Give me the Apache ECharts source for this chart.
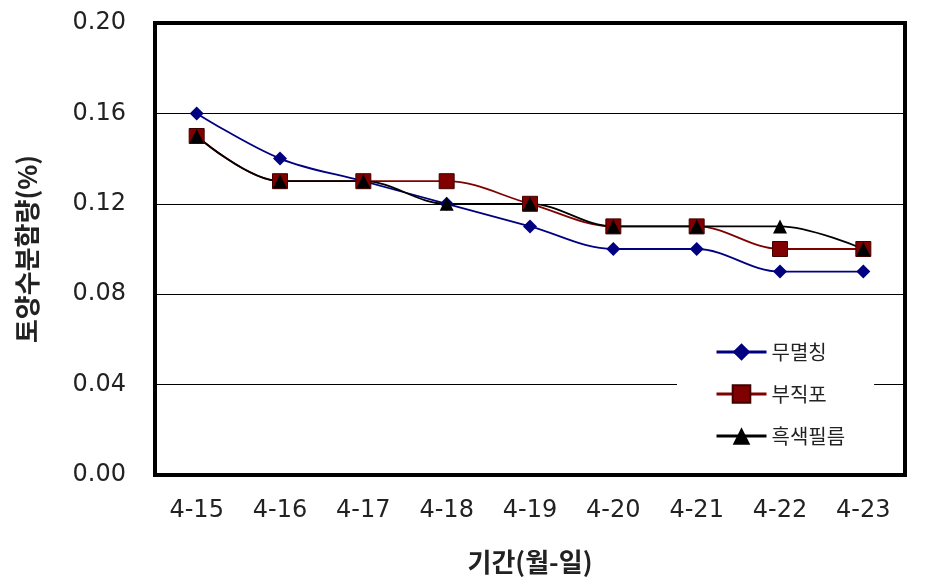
<!DOCTYPE html>
<html>
<head>
<meta charset="utf-8">
<script src="https://cdn.jsdelivr.net/npm/echarts@6/dist/echarts.min.js"></script>
<style>
  html, body { margin: 0; padding: 0; background: #fff; }
  #chart { width: 927px; height: 586px; }
</style>
</head>
<body>
<div id="chart"></div>
<script>
// 기간(월-일)
const categories = ['4-15', '4-16', '4-17', '4-18', '4-19', '4-20', '4-21', '4-22', '4-23']
// 토양수분함량(%)
const noMulch = [0.16, 0.14, 0.13, 0.12, 0.11, 0.10, 0.10, 0.09, 0.09]
const nonWoven = [0.15, 0.13, 0.13, 0.13, 0.12, 0.11, 0.11, 0.10, 0.10]
const blackFilm = [0.15, 0.13, 0.13, 0.12, 0.12, 0.11, 0.11, 0.11, 0.10]
const seriesNames = ['무멸칭', '부직포', '흑색필름']

const krFont = "'Noto Sans CJK KR', 'Noto Sans', sans-serif"
const numFont = "'DejaVu Sans', sans-serif"
const myChart = echarts.init(document.getElementById('chart'))

const option = {
  backgroundColor: '#fff',
  textStyle: { fontFamily: krFont },
  grid: {
    left: 155,
    top: 23,
    right: 22,
    bottom: 111,
    show: true,
    borderColor: '#000',
    borderWidth: 4
  },
  legend: {
    data: seriesNames,
    orient: 'vertical',
    left: 677,
    top: 328,
    backgroundColor: '#fff',
    padding: [14, 29, 14, 38],
    itemWidth: 50,
    itemHeight: 22,
    itemGap: 22,
    lineStyle: { width: 3 },
    textStyle: { fontFamily: krFont, fontSize: 20, color: '#222' }
  },
  xAxis: {
    type: 'category',
    data: categories,
    boundaryGap: true,
    name: '기간(월-일)',
    nameLocation: 'middle',
    nameGap: 74,
    nameTextStyle: { fontFamily: krFont, fontSize: 26, fontWeight: 'bold', color: '#222' },
    axisLine: { lineStyle: { color: '#000', width: 4 } },
    axisTick: { inside: true, length: 8, lineStyle: { color: '#000', width: 1 } },
    axisLabel: { margin: 24, fontSize: 24, color: '#222', fontFamily: numFont }
  },
  yAxis: {
    type: 'value',
    min: 0,
    max: 0.2,
    interval: 0.04,
    name: '토양수분함량(%)',
    nameLocation: 'middle',
    nameGap: 115,
    nameTextStyle: { fontFamily: krFont, fontSize: 26, fontWeight: 'bold', color: '#222' },
    axisLine: { show: false },
    axisTick: { show: false },
    axisLabel: {
      margin: 29,
      fontSize: 24,
      color: '#222',
      fontFamily: numFont,
      formatter: v => v.toFixed(2)
    },
    splitLine: { lineStyle: { color: '#000', width: 1 } }
  },
  series: [
    {
      name: seriesNames[0],
      type: 'line',
      data: noMulch,
      smooth: 0.35,
      symbol: 'diamond',
      symbolSize: 14,
      lineStyle: { color: '#000080', width: 1.8 },
      itemStyle: { color: '#000080' }
    },
    {
      name: seriesNames[1],
      type: 'line',
      data: nonWoven,
      smooth: 0.35,
      symbol: 'rect',
      symbolSize: 15,
      lineStyle: { color: '#800000', width: 1.8 },
      itemStyle: { color: '#800000', borderColor: '#400000', borderWidth: 1 }
    },
    {
      name: seriesNames[2],
      type: 'line',
      data: blackFilm,
      smooth: 0.35,
      symbol: 'triangle',
      symbolSize: 14,
      lineStyle: { color: '#000', width: 1.8 },
      itemStyle: { color: '#000' }
    }
  ]
}

myChart.setOption(option)
</script>
</body>
</html>
